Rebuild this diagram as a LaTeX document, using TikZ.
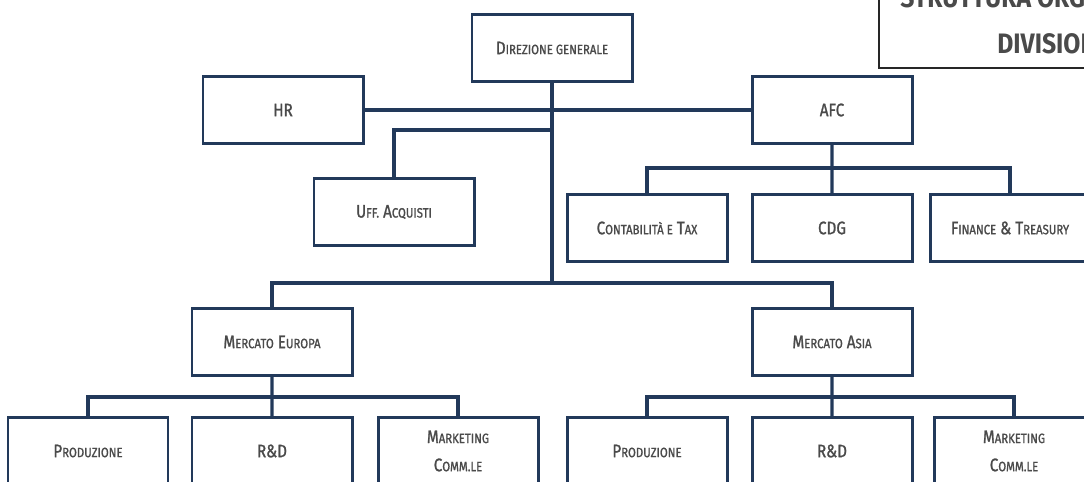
\documentclass[tikz,border=0pt]{standalone}
\usepackage{fontspec}
\setmainfont{Fira Sans}
\newfontfamily\boxfont{Fira Sans}[FakeStretch=0.84, FakeBold=1.2]
\newfontfamily\titlefont{Fira Sans}[FakeStretch=0.88]
\definecolor{navy}{HTML}{22395A}
\definecolor{txtgray}{HTML}{4A4A4A}
\newcommand\sm[1]{{\fontsize{7.7}{8}\selectfont #1}}

\begin{document}
\begin{tikzpicture}[x=0.2mm, y=-0.2mm,
  box/.style={rectangle, draw=navy, line width=1.7pt, fill=white, text=txtgray,
    minimum width=32mm, minimum height=13.4mm, align=center,
    font=\boxfont\fontsize{10.3}{16}\selectfont},
  link/.style={draw=navy, line width=1.9pt},
  titlebox/.style={rectangle, draw=black!85, line width=1.1pt, fill=white},
  titletext/.style={text=txtgray, inner sep=0pt, font=\titlefont\bfseries\fontsize{16}{18}\selectfont}]
  \useasboundingbox (0,0) rectangle (1084,481);
  \clip (0,0) rectangle (1084,481);

  % title, cut by the frame
  \node[titlebox, anchor=south west, minimum width=80mm, minimum height=20mm] (title) at (878,69) {};
  \node[titletext, anchor=base west] (title1) at (900,7) {STRUTTURA ORGANIZZATIVA};
  \node[titletext, anchor=base west] (title2) at (997,53) {DIVISIONALE};

  % staff
  \node[box] (dir) at (552,48) {D\sm{IREZIONE GENERALE}};
  \node[box] (hr) at (283,110) {HR};
  \node[box, right of=hr, node distance=109.8mm] (afc) {AFC};
  \node[box] (uff) at (394,212) {U\sm{FF.} A\sm{CQUISTI}};
  \node[box] (conta) at (647,228) {C\sm{ONTABILITÀ E} T\sm{AX}};
  \node[box, right of=conta, node distance=37mm] (cdg) {CDG};
  \node[box, right of=cdg, node distance=35.6mm] (fin) {F\sm{INANCE} \& T\sm{REASURY}};

  % markets
  \node[box] (eu) at (272,342) {M\sm{ERCATO} E\sm{UROPA}};
  \node[box, right of=eu, node distance=112mm] (asia) {M\sm{ERCATO} A\sm{SIA}};

  \node[box] (prodeu) at (88,451) {P\sm{RODUZIONE}};
  \node[box, right of=prodeu, node distance=36.8mm] (rdeu) {R\&D};
  \node[box, right of=rdeu, node distance=37.2mm] (mkeu) {M\sm{ARKETING}\\C\sm{OMM.LE}};
  \node[box, right of=mkeu, node distance=37.8mm] (prodas) {P\sm{RODUZIONE}};
  \node[box, right of=prodas, node distance=37mm] (rdas) {R\&D};
  \node[box, right of=rdas, node distance=36.4mm] (mkas) {M\sm{ARKETING}\\C\sm{OMM.LE}};

  \coordinate (uffjoin) at (552,130);
  \coordinate (split) at (552,283);
  \coordinate (afcbus) at (832,168);
  \coordinate (eubus) at (272,397);
  \coordinate (asbus) at (832,397);

  \draw[link] (hr.east) -- (afc.west);
  \draw[link] (dir.south) -- (split);
  \draw[link] (uffjoin) -| (uff.north);
  \draw[link] (afc.south) -- (cdg.north);
  \draw[link] (conta.north) |- (afcbus) -| (fin.north);
  \draw[link] (eu.north) |- (split) -| (asia.north);
  \draw[link] (eu.south) -- (rdeu.north);
  \draw[link] (prodeu.north) |- (eubus) -| (mkeu.north);
  \draw[link] (asia.south) -- (rdas.north);
  \draw[link] (prodas.north) |- (asbus) -| (mkas.north);
\end{tikzpicture}
\end{document}
